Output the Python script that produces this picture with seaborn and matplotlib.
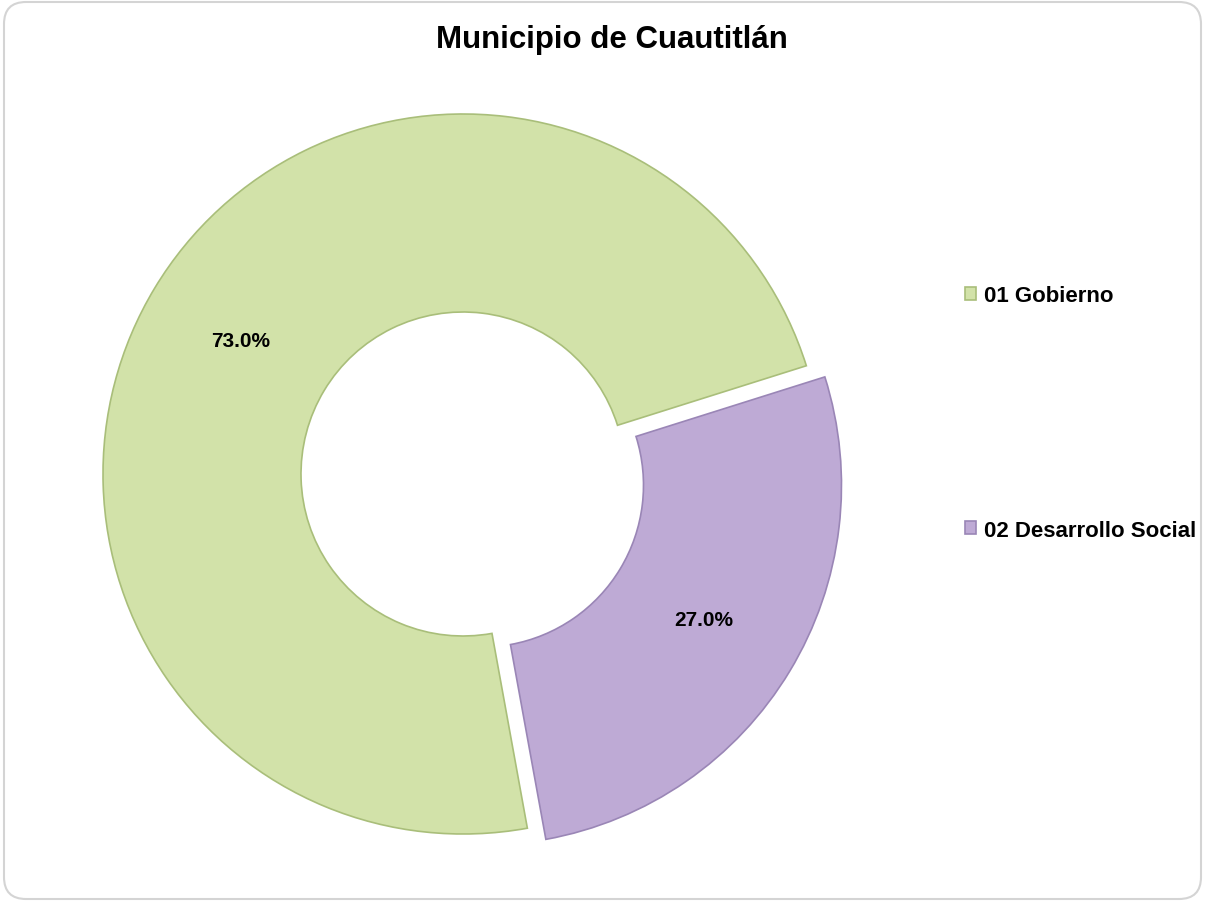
import seaborn as sns
import matplotlib.pyplot as plt
from matplotlib.patches import FancyBboxPatch

# data
categories = ['01 Gobierno', '02 Desarrollo Social']
shares = [73.0, 27.0]
colors = ['#D2E2A9', '#BEAAD5']
edges = ['#A9BE7A', '#9A86B6']

sns.set_theme(style='white')
plt.rcParams['font.family'] = ['Liberation Sans', 'DejaVu Sans']
plt.rcParams['text.color'] = 'black'

fig = plt.figure(figsize=(12.06, 9.03), dpi=100)
fig.patch.set_facecolor('white')

# rounded frame round the chart
frame = FancyBboxPatch((0.04, 0.03), 11.97, 8.97, boxstyle='round,pad=0,rounding_size=0.22',
                       transform=fig.dpi_scale_trans, facecolor='none',
                       edgecolor='#D4D4D4', linewidth=1.5, zorder=-1)
fig.patches.append(frame)

ax = fig.add_axes([67 / 1206, 32 / 903, 792 / 1206, 792 / 903])
wedges, texts, autotexts = ax.pie(
    shares, colors=colors, startangle=17.5, counterclock=True,
    explode=[0, 0.06], autopct='%.1f%%', pctdistance=0.72,
    wedgeprops=dict(width=0.55, linewidth=1.2),
    textprops=dict(fontsize=15, fontweight='bold', color='black'))
for w, ec in zip(wedges, edges):
    w.set_edgecolor(ec)
ax.set_xlim(-1.1, 1.1)
ax.set_ylim(-1.1, 1.1)
ax.set_aspect('equal')
ax.axis('off')

fig.text(0.507, 0.956, 'Municipio de Cuautitlán', ha='center', va='center',
         fontsize=22.5, fontweight='bold', color='black')

leg = fig.legend(wedges, categories, loc='center left',
                 bbox_to_anchor=(945 / 1206, 1 - 414 / 903), frameon=False,
                 prop=dict(size=16, weight='bold'), labelspacing=9.6,
                 handlelength=0.5, handleheight=0.5, handletextpad=0.35)
for t in leg.get_texts():
    t.set_color('black')

fig.savefig('out.png', dpi=100)
